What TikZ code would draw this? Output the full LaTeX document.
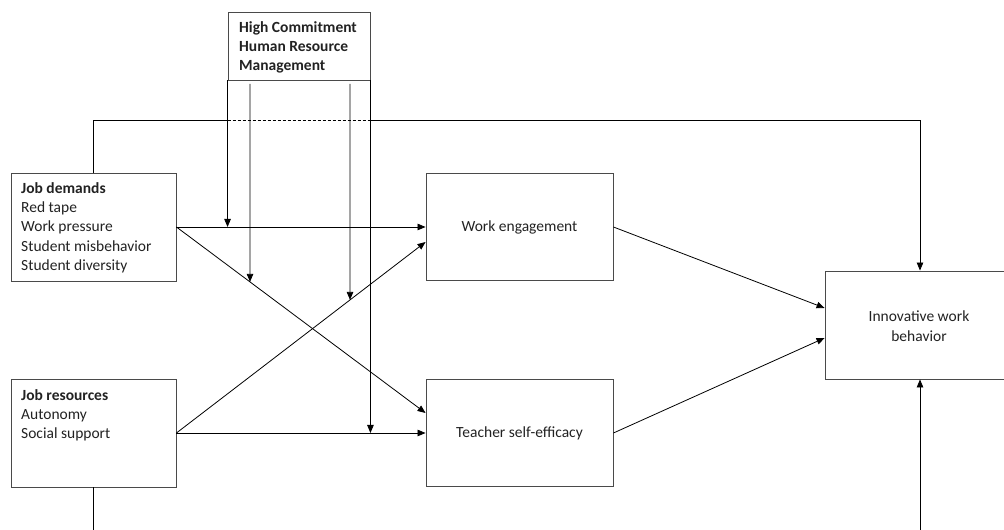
\documentclass[tikz,border=0pt]{standalone}
\usepackage{fontspec}
\setmainfont{Carlito}
\usetikzlibrary{arrows.meta,calc}
\definecolor{boxline}{HTML}{4A4A4A}
\definecolor{txt}{HTML}{222222}
\begin{document}
\begin{tikzpicture}[x=1pt,y=1pt,
  box/.style={draw=boxline,line width=0.9pt,rectangle,inner sep=0pt},
  lbl/.style={text=txt,inner sep=0pt,align=left,font=\fontsize{15.5}{19.4}\selectfont},
  clbl/.style={text=txt,inner sep=0pt,align=center,font=\fontsize{15.5}{19.4}\selectfont},
  link/.style={draw=black,line width=0.8pt},
  arr/.style={link,-{Triangle[length=8pt,width=6.5pt]}}]
\useasboundingbox (0,0) rectangle (1004,530);
\begin{scope}
\clip (0,0) rectangle (1004,530);
% boxes
\node[box,minimum width=142,minimum height=68] (hc) at (299,484) {};
\node[box,minimum width=165,minimum height=108] (jd) at (93.5,303) {};
\node[box,minimum width=165,minimum height=108] (jr) at (93.5,97) {};
\node[box,minimum width=187,minimum height=107] (we) at (519.5,303) {};
\node[box,minimum width=187,minimum height=107] (tse) at (519.5,97) {};
\node[box,minimum width=190,minimum height=108] (iwb) at (920,205) {};
% texts
\node[lbl,anchor=north west] (hct) at (239,509) {\textbf{High Commitment}\\\textbf{Human Resource}\\\textbf{Management}};
\node[lbl,anchor=north west] (jdt) at (21,348) {\textbf{Job demands}\\Red tape\\Work pressure\\Student misbehavior\\Student diversity};
\node[lbl,anchor=north west] (jrt) at (21,141) {\textbf{Job resources}\\Autonomy\\Social support};
\node[clbl] (wet) at (we.center) {Work engagement};
\node[clbl] (tset) at (tse.center) {Teacher self-efficacy};
\node[clbl] (iwbt) at (919,204) {Innovative work\\behavior};
% anchor points on the target boxes
\coordinate (tseA) at ($(tse.west)+(0,20)$);
\coordinate (weB) at ($(we.west)+(0,-15)$);
\coordinate (iwbA) at ($(iwb.west)+(0,17)$);
\coordinate (iwbB) at ($(iwb.west)+(0,-13)$);
% main paths
\draw[arr] (jd.east) -- (we.west);
\draw[arr] (jd.east) -- (tseA);
\draw[arr] (jr.east) -- (weB);
\draw[arr] (jr.east) -- (tse.west);
\draw[arr] (we.east) -- (iwbA);
\draw[arr] (tse.east) -- (iwbB);
% direct path over the top
\coordinate (tl) at ($(jd.north)+(0,52)$);
\draw[link] (jd.north) -- (tl) -- (tl -| hc.west);
\draw[link,dashed,dash pattern=on 3pt off 2pt] (tl -| hc.west) -- (tl -| hc.east);
\draw[arr] (tl -| hc.east) -- (tl -| iwb.north) -- (iwb.north);
% lower path
\coordinate (bl) at (jr.south |- 0,0);
\coordinate (br) at (iwb.south |- 0,0);
\draw[link] (jr.south) -- (bl);
\draw[arr] (br) -- (iwb.south);
% moderation by HCHRM
\coordinate (m1) at (250,446);
\coordinate (m2) at (350,446);
\coordinate (m1b) at (250,0);
\coordinate (m2b) at (350,0);
\draw[arr] (hc.south west) -- (hc.south west |- jd.east);
\draw[arr] (m1) -- (intersection of m1--m1b and jd.east--tseA);
\draw[arr] (m2) -- (intersection of m2--m2b and jr.east--weB);
\draw[arr] (hc.south east) -- (hc.south east |- jr.east);
\end{scope}
\end{tikzpicture}
\end{document}
